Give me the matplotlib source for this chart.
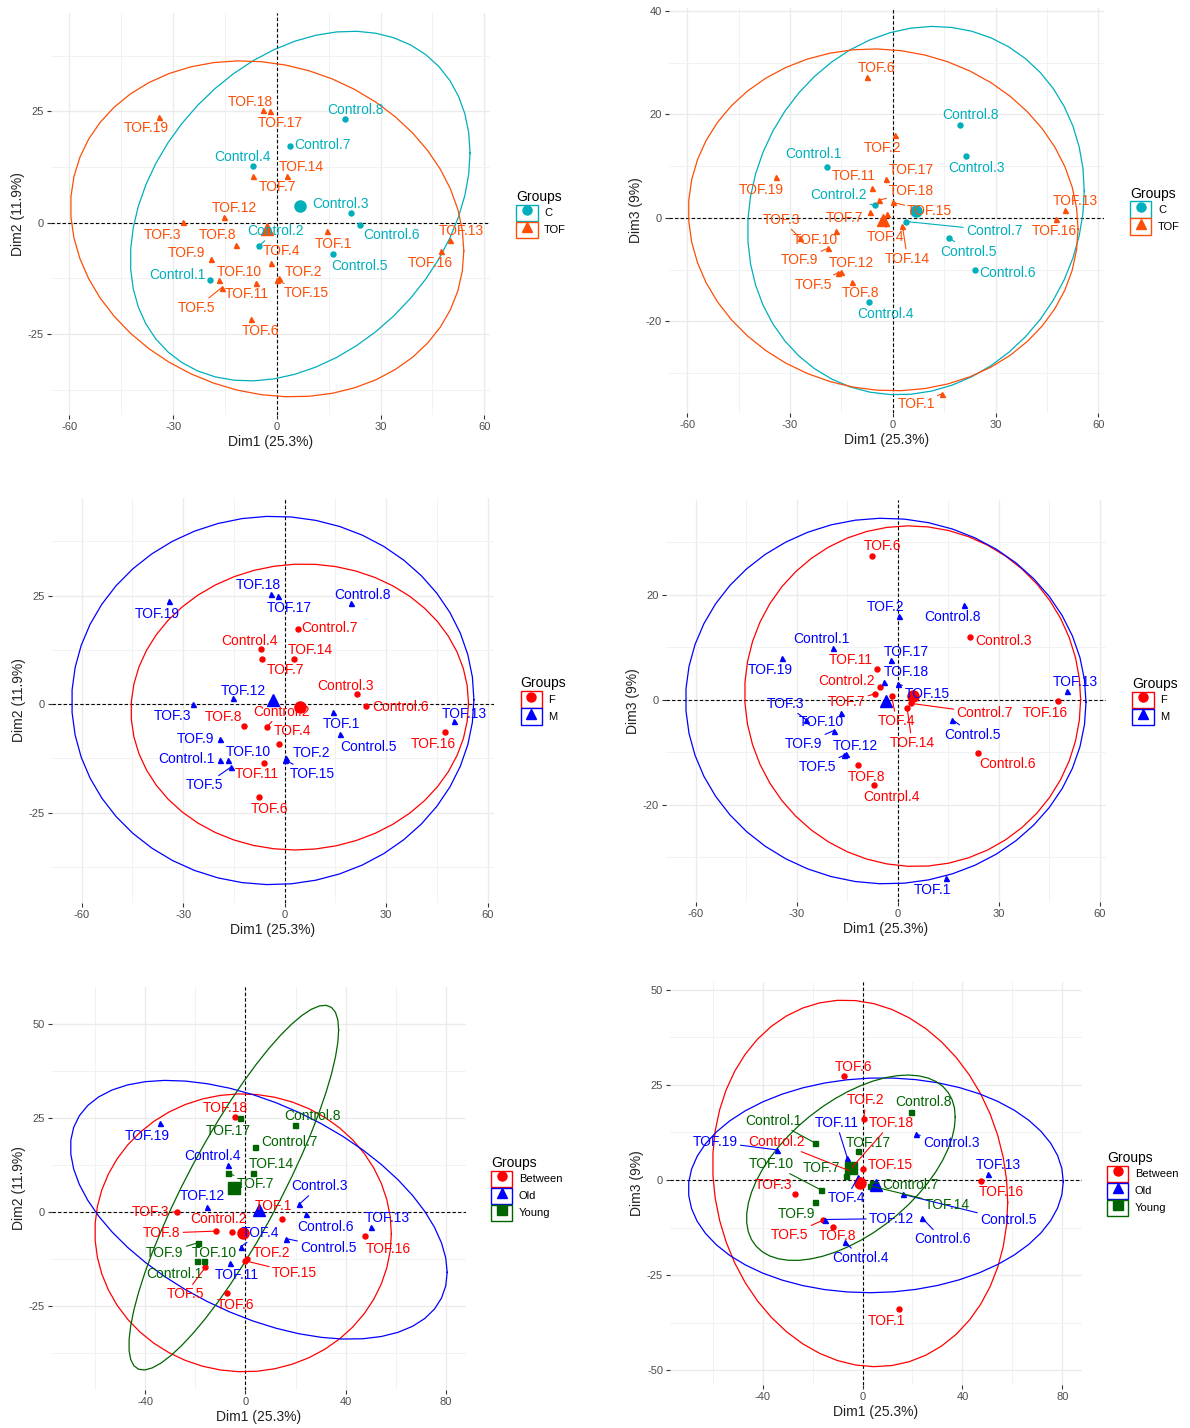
import numpy as np
import matplotlib
matplotlib.use("Agg")
import matplotlib.pyplot as plt
from matplotlib.text import Text
from matplotlib.ticker import MultipleLocator
from matplotlib.lines import Line2D
from matplotlib.patches import Patch
from matplotlib.legend_handler import HandlerTuple

plt.rcParams['font.family'] = ['Liberation Sans', 'DejaVu Sans']
plt.rcParams['axes.unicode_minus'] = False

# ---- data: PCA individual coordinates ----
samples = ['Control.%d' % i for i in range(1, 9)] + ['TOF.%d' % i for i in range(1, 20)]

dim1 = [-19.2, -5.2, 21.5, -6.9, 16.3, 24.0, 3.9, 19.6,
        14.4, 0.5, -27.2, -1.8, -16.0, -7.5, -6.8, -11.9, -19.0, -16.7,
        -6.1, -15.2, 50.2, 2.8, 0.0, 47.5, -2.0, -4.1, -34.2]
dim2 = [-12.9, -5.2, 2.2, 12.7, -7.0, -0.4, 17.3, 23.3,
        -1.9, -12.5, 0.1, -9.1, -14.6, -21.5, 10.4, -5.0, -8.1, -12.9,
        -13.6, 1.3, -3.8, 10.4, -12.9, -6.4, 25.0, 25.4, 23.8]
dim3 = [9.8, 2.4, 12.0, -16.3, -3.8, -10.1, -0.7, 18.0,
        -34.0, 16.0, -3.8, 0.7, -10.6, 27.3, 1.1, -12.4, -5.9, -2.6,
        5.8, -10.4, 1.6, -1.5, 3.0, -0.3, 7.5, 3.4, 7.9]

condition = ['C'] * 8 + ['TOF'] * 19
sex = ['M', 'F', 'F', 'F', 'M', 'F', 'F', 'M',
       'M', 'M', 'M', 'F', 'M', 'F', 'F', 'F', 'M', 'M',
       'F', 'M', 'M', 'F', 'M', 'F', 'M', 'M', 'M']
age = ['Young', 'Between', 'Old', 'Old', 'Old', 'Old', 'Young', 'Young',
       'Between', 'Between', 'Between', 'Old', 'Between', 'Between', 'Young', 'Between', 'Young', 'Young',
       'Old', 'Old', 'Old', 'Young', 'Between', 'Between', 'Young', 'Between', 'Old']

# ---- label offsets (pixels, x right / y up) per panel, in sample order ----
off_p1 = [(-33, 5), (17, 15), (-11, 9), (-11, 9), (26, -12), (32, -10), (32, 1), (11, 9),
          (7, -13), (25, 6), (-20, -13), (11, 12), (-25, -20), (10, -12), (24, -11), (-18, 10),
          (-25, 6), (20, 8), (-9, -11), (10, 9), (11, 9), (15, 9), (29, -13), (-11, -12),
          (10, -12), (-12, 8), (-12, -11)]
off_p2 = [(-14, 13), (-36, 10), (10, -12), (16, -12), (20, -14), (32, -3), (88, -9), (11, 10),
          (-26, -10), (-12, -13), (-18, 18), (-1, -23), (-24, -12), (9, 9), (-25, -6), (8, -11),
          (-28, -12), (-20, -9), (-18, 12), (11, 9), (10, 9), (5, -33), (37, -9), (-1, -12),
          (25, 9), (33, 9), (-14, -13)]
off_p3 = [(-33, 1), (14, 15), (-12, 8), (-12, 8), (29, -13), (35, -1), (32, 1), (12, 8),
          (8, -12), (25, 5), (-20, -12), (14, 13), (-26, -18), (10, -12), (24, -11), (-21, 9),
          (-25, 0), (20, 8), (-7, -11), (10, 7), (10, 7), (16, 9), (28, -14), (-12, -12),
          (11, -12), (-12, 9), (-12, -13)]
off_p4 = [(-12, 9), (-34, 6), (33, -4), (17, -12), (20, -15), (29, -11), (74, -10), (-11, -12),
          (-14, -12), (-14, 9), (-21, 16), (5, -25), (-26, -12), (10, 10), (-28, -8), (9, -12),
          (-30, -13), (-20, -9), (-26, 9), (9, 8), (9, 9), (5, -35), (30, -10), (-12, -12),
          (15, 8), (23, 10), (-12, -12)]
off_p5 = [(-23, -13), (-14, 13), (20, 18), (-16, 9), (42, -9), (20, -13), (34, 5), (18, 9),
          (-8, 13), (25, 6), (-27, 0), (20, 14), (-20, -27), (9, -12), (27, -11), (-54, -2),
          (-33, -10), (11, 8), (7, -12), (-5, 11), (16, 9), (19, 9), (49, -12), (24, -13),
          (-12, -13), (-10, 9), (-12, -13)]
off_p6 = [(-41, 22), (-73, 29), (35, -9), (15, -16), (105, -26), (20, -21), (38, -2), (12, 10),
          (-12, -12), (2, 19), (-21, 9), (-12, -21), (-33, -15), (10, 9), (-24, 8), (5, -9),
          (-19, -12), (-50, 26), (-11, 35), (67, 1), (10, 9), (78, -19), (28, 4), (20, -11),
          (11, 8), (39, 44), (-62, 8)]

cond_groups, cond_colors = ['C', 'TOF'], ['#00AFBB', '#FC4E07']
sex_groups, sex_colors = ['F', 'M'], ['#FF0000', '#0000FF']
age_groups, age_colors = ['Between', 'Old', 'Young'], ['#FF0000', '#0000FF', '#006400']
shapes = ['o', '^', 's']


def norm_ellipse(x, y, level=0.95, segments=51):
    """95% normal-theory ellipse, same construction as ggplot2 stat_ellipse(type='norm')."""
    pts = np.column_stack([x, y])
    center = pts.mean(axis=0)
    shape = np.cov(pts.T)
    dfd = len(x) - 1
    qf = dfd / 2 * ((1 - level) ** (-2 / dfd) - 1)   # qf(level, 2, dfd)
    radius = np.sqrt(2 * qf)
    chol = np.linalg.cholesky(shape).T
    ang = np.linspace(0, 2 * np.pi, segments + 1)
    circ = np.column_stack([np.cos(ang), np.sin(ang)])
    ell = center + radius * circ @ chol
    return ell[:, 0], ell[:, 1]


W, H = 1190, 1428
fig = plt.figure(figsize=(W / 100, H / 100), dpi=100)

# (left, top, right, bottom) in pixels
boxes = [(51, 13, 490, 415), (669, 8, 1104, 413),
         (52, 498, 494, 903), (666, 500, 1106, 902),
         (52, 987, 466, 1390), (670, 982, 1082, 1385)]

panels = [
    (dim2, 'Dim2 (11.9%)', condition, cond_groups, cond_colors, 30, 25, off_p1),
    (dim3, 'Dim3 (9%)', condition, cond_groups, cond_colors, 30, 20, off_p2),
    (dim2, 'Dim2 (11.9%)', sex, sex_groups, sex_colors, 30, 25, off_p3),
    (dim3, 'Dim3 (9%)', sex, sex_groups, sex_colors, 30, 20, off_p4),
    (dim2, 'Dim2 (11.9%)', age, age_groups, age_colors, 40, 25, off_p5),
    (dim3, 'Dim3 (9%)', age, age_groups, age_colors, 40, 25, off_p6),
]

x_all = np.array(dim1)
anns = []
for box, (ydat, ylab, grp, groups, colors, xstep, ystep, offs) in zip(boxes, panels):
    l, t, r, b = box
    ax = fig.add_axes([l / W, 1 - b / H, (r - l) / W, (b - t) / H])
    y_all = np.array(ydat)
    grp = np.array(grp)

    for k, g in enumerate(groups):
        m = grp == g
        ex, ey = norm_ellipse(x_all[m], y_all[m])
        ax.plot(ex, ey, color=colors[k], lw=0.9, zorder=2)
        ax.plot(x_all[m], y_all[m], ls='', marker=shapes[k], ms=3.6, color=colors[k], zorder=3)
        ax.plot(x_all[m].mean(), y_all[m].mean(), ls='', marker=shapes[k], ms=8,
                color=colors[k], zorder=4)

    ax.axhline(0, color='black', ls=(0, (3, 2)), lw=0.8, zorder=1)
    ax.axvline(0, color='black', ls=(0, (3, 2)), lw=0.8, zorder=1)

    for i, name in enumerate(samples):
        c = colors[groups.index(grp[i])]
        a = ax.annotate(name, (x_all[i], y_all[i]), xytext=offs[i], textcoords='offset pixels',
                        ha='center', va='center', fontsize=10, color=c, zorder=5,
                        arrowprops=dict(arrowstyle='-', color=c, lw=0.8, shrinkA=0, shrinkB=0))
        anns.append((ax, a, x_all[i], y_all[i]))

    ax.xaxis.set_major_locator(MultipleLocator(xstep))
    ax.xaxis.set_minor_locator(MultipleLocator(xstep / 2))
    ax.yaxis.set_major_locator(MultipleLocator(ystep))
    ax.yaxis.set_minor_locator(MultipleLocator(ystep / 2))
    ax.grid(which='major', color='#EBEBEB', lw=1.0, zorder=0)
    ax.grid(which='minor', color='#F2F2F2', lw=0.7, zorder=0)
    ax.set_axisbelow(True)
    for s in ax.spines.values():
        s.set_visible(False)
    ax.tick_params(which='major', length=3, width=0.8, color='#333333', labelsize=8,
                   labelcolor='#4D4D4D', pad=2)
    ax.tick_params(which='minor', length=0)
    ax.set_xlabel('Dim1 (25.3%)', fontsize=10, color='#222222', labelpad=2)
    ax.set_ylabel(ylab, fontsize=10, color='#222222', labelpad=2)

    handles = [(Patch(facecolor='white', edgecolor=colors[k], lw=1.0),
                Line2D([], [], ls='', marker=shapes[k], ms=6.5, color=colors[k]))
               for k in range(len(groups))]
    leg = ax.legend(handles, groups, handler_map={tuple: HandlerTuple(ndivide=1, pad=0)},
                    title='Groups', loc='center left', bbox_to_anchor=(1.05, 0.5),
                    frameon=False, fontsize=8, title_fontsize=10, handlelength=1.9,
                    handleheight=1.9, labelspacing=0.05, handletextpad=0.6, borderaxespad=0)
    leg._legend_box.align = 'left'

# keep a segment only where the label sits away from its point (text box only)
fig.canvas.draw()
rend = fig.canvas.get_renderer()
for ax, a, x, y in anns:
    px, py = ax.transData.transform((x, y))
    bb = Text.get_window_extent(a, rend)
    gx = max(bb.x0 - px, 0, px - bb.x1)
    gy = max(bb.y0 - py, 0, py - bb.y1)
    if np.hypot(gx, gy) < 7:
        a.arrow_patch.set_visible(False)

fig.savefig('out.png', dpi=100, facecolor='white')
